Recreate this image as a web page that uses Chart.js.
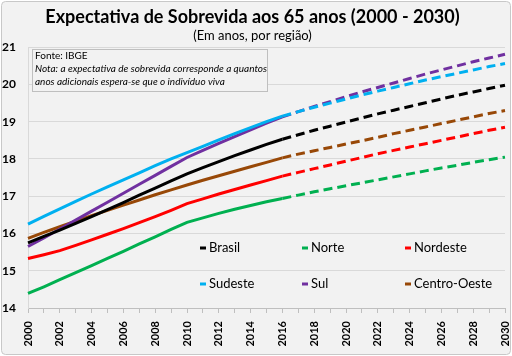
<!DOCTYPE html>
<html><head><meta charset="utf-8">
<script src="https://cdn.jsdelivr.net/npm/chart.js@4"></script>
<style>html,body{margin:0;padding:0;background:#fff;}canvas{display:block}</style>
</head><body>
<canvas id="c" width="512" height="356"></canvas>
<script>
const years = [2000,2001,2002,2003,2004,2005,2006,2007,2008,2009,2010,2011,2012,2013,2014,2015,2016,2017,2018,2019,2020,2021,2022,2023,2024,2025,2026,2027,2028,2029,2030];
const brasil = [15.75,15.92,16.09,16.27,16.45,16.64,16.83,17.03,17.22,17.41,17.60,17.77,17.93,18.09,18.24,18.39,18.53,18.65,18.77,18.88,18.99,19.10,19.21,19.31,19.41,19.51,19.61,19.71,19.80,19.89,19.98];
const norte = [14.39,14.57,14.76,14.95,15.14,15.33,15.52,15.72,15.91,16.11,16.30,16.42,16.54,16.65,16.75,16.85,16.94,17.03,17.12,17.20,17.28,17.36,17.44,17.52,17.60,17.68,17.76,17.83,17.91,17.98,18.05];
const nordeste = [15.33,15.43,15.54,15.68,15.83,15.98,16.13,16.29,16.45,16.62,16.80,16.93,17.06,17.18,17.30,17.42,17.54,17.64,17.74,17.84,17.94,18.04,18.14,18.23,18.32,18.41,18.50,18.59,18.68,18.77,18.85];
const sudeste = [16.25,16.46,16.66,16.86,17.06,17.25,17.44,17.63,17.82,18.00,18.17,18.34,18.51,18.68,18.84,19.00,19.15,19.27,19.39,19.50,19.61,19.72,19.82,19.92,20.02,20.12,20.21,20.30,20.39,20.48,20.56];
const sul = [15.65,15.88,16.12,16.36,16.60,16.84,17.08,17.32,17.56,17.80,18.04,18.23,18.42,18.60,18.78,18.96,19.13,19.27,19.41,19.54,19.67,19.80,19.92,20.04,20.16,20.28,20.39,20.50,20.61,20.71,20.81];
const centroOeste = [15.87,16.03,16.18,16.33,16.48,16.62,16.76,16.90,17.04,17.17,17.30,17.43,17.55,17.67,17.79,17.91,18.03,18.13,18.22,18.31,18.40,18.49,18.58,18.68,18.77,18.86,18.95,19.04,19.13,19.22,19.30];
const regionNames = ['Brasil','Norte','Nordeste','Sudeste','Sul','Centro-Oeste'];
const regionColors = ['#000000','#00b050','#ff0000','#00b0f0','#7030a0','#984807'];
const regionValues = [brasil, norte, nordeste, sudeste, sul, centroOeste];
const splitYear = 2016;
const yTicksMin = 14, yTicksMax = 21;

const splitIdx = years.indexOf(splitYear);
const datasets = [];
regionValues.forEach((vals, k) => {
  datasets.push({label: regionNames[k], data: vals.map((v,i)=> i<=splitIdx ? v : null),
    borderColor: regionColors[k], borderWidth: 3, pointRadius: 0, tension: 0, fill:false, spanGaps:false});
});
regionValues.forEach((vals, k) => {
  datasets.push({label: regionNames[k] + ' (projeção)', data: vals.map((v,i)=> i>=splitIdx ? v : null),
    borderColor: regionColors[k], borderWidth: 3, borderDash:[9,5], pointRadius: 0, tension: 0, fill:false, spanGaps:false});
});

const bgPlugin = {
  id:'bg',
  beforeDraw(chart){
    const ctx = chart.ctx;
    ctx.save();
    ctx.fillStyle = '#ffffff';
    ctx.fillRect(0,0,chart.width,chart.height);
    ctx.fillStyle = '#f2f2f2';
    ctx.strokeStyle = '#c8c8c8';
    ctx.lineWidth = 1;
    ctx.beginPath();
    ctx.roundRect(1.5,1.5,chart.width-3,chart.height-3,4);
    ctx.fill(); ctx.stroke();
    ctx.restore();
  }
};

const noteLegendPlugin = {
  id:'noteLegend',
  afterDraw(chart){
    const ctx = chart.ctx, ca = chart.chartArea;
    ctx.save();
    // note box
    const bx = Math.round(ca.left) + 4, by = Math.round(ca.top) + 2, bw = 235, bh = 42;
    ctx.fillStyle = '#f2f2f2';
    ctx.strokeStyle = '#bfbfbf';
    ctx.lineWidth = 1;
    ctx.fillRect(bx, by, bw, bh);
    ctx.strokeRect(bx+0.5, by+0.5, bw, bh);
    ctx.fillStyle = '#000';
    ctx.textBaseline = 'middle';
    ctx.textAlign = 'left';
    ctx.font = '10px Lato';
    ctx.fillText('Fonte: IBGE', bx+3, by+7);
    ctx.font = 'italic 10px Lato';
    ctx.fillText('Nota: a expectativa de sobrevida corresponde a quantos', bx+3, by+20);
    ctx.fillText('anos adicionais espera-se que o indivíduo viva', bx+3, by+33);
    // legend grid
    const colX = [200, 302, 405];
    const rowY = [248, 284];
    ctx.font = '13px Lato';
    regionNames.forEach((name,k)=>{
      const x = colX[k%3], y = rowY[Math.floor(k/3)];
      ctx.fillStyle = regionColors[k];
      ctx.fillRect(x, y-1.5, 6, 3);
      ctx.fillStyle = '#000';
      ctx.fillText(name, x+9, y);
    });
    ctx.restore();
  }
};

new Chart(document.getElementById('c'), {
  type:'line',
  data:{labels: years, datasets},
  options:{
    responsive:false, animation:false, devicePixelRatio:1,
    layout:{padding:{left:0,right:7,top:0,bottom:0}},
    plugins:{
      legend:{display:false}, tooltip:{enabled:false},
      title:{display:true, text:'Expectativa de Sobrevida aos 65 anos (2000 - 2030)', color:'#000',
        font:{family:'Lato', size:18, weight:'bold'}, padding:{top:6,bottom:0}},
      subtitle:{display:true, text:'(Em anos, por região)', color:'#000',
        font:{family:'Lato', size:13}, padding:{top:0,bottom:4}}
    },
    scales:{
      x:{type:'category', offset:false,
        grid:{drawOnChartArea:false, drawTicks:true, tickLength:5, color:'#bfbfbf'},
        border:{color:'#bfbfbf'},
        ticks:{autoSkip:false, minRotation:90, maxRotation:90, padding:8, color:'#000',
          font:{family:'Lato', size:11, weight:'bold'},
          callback:(v,i)=> i%2===0 ? String(years[i]) : ''},
        afterFit:(s)=>{ s.height = 48; s.paddingRight = 0; s.paddingLeft = 0; }
      },
      y:{min:yTicksMin, max:yTicksMax,
        ticks:{stepSize:1, padding:12, color:'#000', font:{family:'Lato', size:12, weight:'bold'}},
        grid:{color:'#d9d9d9', drawTicks:false},
        border:{color:'#d9d9d9'},
        afterFit:(s)=>{ s.width = 28; }
      }
    }
  },
  plugins:[bgPlugin, noteLegendPlugin]
});
</script>
</body></html>
